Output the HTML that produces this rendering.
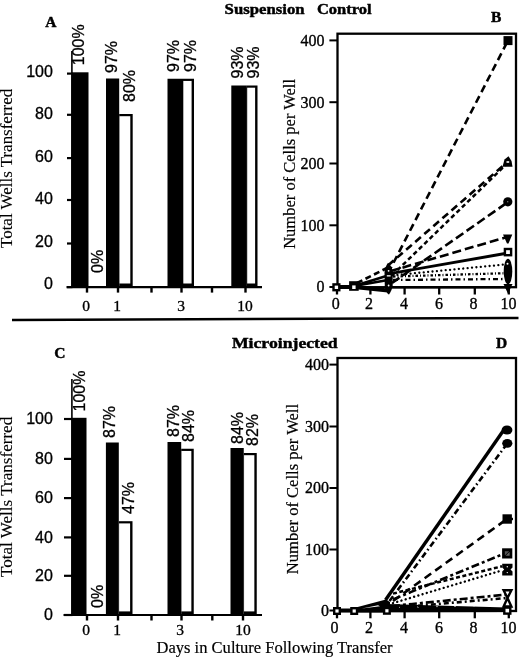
<!DOCTYPE html>
<html><head><meta charset="utf-8"><style>
html,body{margin:0;padding:0;background:#fff;}
svg{display:block;}
</style></head><body>
<svg width="520" height="658" viewBox="0 0 520 658">
<defs><filter id="bl" x="0" y="0" width="520" height="658" filterUnits="userSpaceOnUse"><feGaussianBlur stdDeviation="0.35"/></filter></defs>
<rect width="520" height="658" fill="#fff"/>
<g filter="url(#bl)">
<text x="45.2" y="26.9" font-family='"Liberation Serif", serif' font-size="15.5" font-weight="bold" text-anchor="start" stroke="#000" stroke-width="0.45">A</text>
<text x="224.6" y="13.6" font-family='"Liberation Serif", serif' font-size="15.5" font-weight="bold" text-anchor="start" stroke="#000" stroke-width="0.45" textLength="80" lengthAdjust="spacingAndGlyphs">Suspension</text>
<text x="316.9" y="13.6" font-family='"Liberation Serif", serif' font-size="15.5" font-weight="bold" text-anchor="start" stroke="#000" stroke-width="0.45" textLength="54.8" lengthAdjust="spacingAndGlyphs">Control</text>
<text x="491" y="21.6" font-family='"Liberation Serif", serif' font-size="15.5" font-weight="bold" text-anchor="start" stroke="#000" stroke-width="0.45">B</text>
<text x="54.2" y="357.5" font-family='"Liberation Serif", serif' font-size="15.5" font-weight="bold" text-anchor="start" stroke="#000" stroke-width="0.45">C</text>
<text x="231.9" y="348" font-family='"Liberation Serif", serif' font-size="15.5" font-weight="bold" text-anchor="start" stroke="#000" stroke-width="0.45" textLength="105.8" lengthAdjust="spacingAndGlyphs">Microinjected</text>
<text x="496" y="347.6" font-family='"Liberation Serif", serif' font-size="15.5" font-weight="bold" text-anchor="start" stroke="#000" stroke-width="0.45">D</text>
<line x1="12" y1="320" x2="518.5" y2="318" stroke="#000" stroke-width="2.5" stroke-linecap="butt"/>
<line x1="71.9" y1="51" x2="71.9" y2="287.1" stroke="#000" stroke-width="1.6" stroke-linecap="butt"/>
<line x1="67" y1="73.6" x2="72.5" y2="73.6" stroke="#000" stroke-width="2.2" stroke-linecap="butt"/>
<text x="52.9" y="77.35" font-family='"Liberation Sans", sans-serif' font-size="16" font-weight="normal" text-anchor="end" stroke="#000" stroke-width="0.3">100</text>
<line x1="67" y1="114.8" x2="72.5" y2="114.8" stroke="#000" stroke-width="2.2" stroke-linecap="butt"/>
<text x="52.9" y="118.55" font-family='"Liberation Sans", sans-serif' font-size="16" font-weight="normal" text-anchor="end" stroke="#000" stroke-width="0.3">80</text>
<line x1="67" y1="158.1" x2="72.5" y2="158.1" stroke="#000" stroke-width="2.2" stroke-linecap="butt"/>
<text x="52.9" y="161.85" font-family='"Liberation Sans", sans-serif' font-size="16" font-weight="normal" text-anchor="end" stroke="#000" stroke-width="0.3">60</text>
<line x1="67" y1="200" x2="72.5" y2="200" stroke="#000" stroke-width="2.2" stroke-linecap="butt"/>
<text x="52.9" y="203.75" font-family='"Liberation Sans", sans-serif' font-size="16" font-weight="normal" text-anchor="end" stroke="#000" stroke-width="0.3">40</text>
<line x1="67" y1="243.5" x2="72.5" y2="243.5" stroke="#000" stroke-width="2.2" stroke-linecap="butt"/>
<text x="52.9" y="247.25" font-family='"Liberation Sans", sans-serif' font-size="16" font-weight="normal" text-anchor="end" stroke="#000" stroke-width="0.3">20</text>
<line x1="67" y1="287.1" x2="72.5" y2="287.1" stroke="#000" stroke-width="2.2" stroke-linecap="butt"/>
<text x="52.9" y="288.65000000000003" font-family='"Liberation Sans", sans-serif' font-size="16" font-weight="normal" text-anchor="end" stroke="#000" stroke-width="0.3">0</text>
<rect x="71.5" y="72.3" width="17.0" height="214.8" fill="#000"/>
<rect x="106" y="78.5" width="13.2" height="208.6" fill="#000"/>
<rect x="119.2" y="114" width="13.5" height="173.1" fill="#000"/>
<rect x="119.5" y="116.2" width="10.8" height="167.3" fill="#fff"/>
<rect x="167.5" y="78.75" width="15.5" height="208.35" fill="#000"/>
<rect x="183" y="78.75" width="11" height="208.35" fill="#000"/>
<rect x="183.3" y="80.95" width="8.3" height="202.55" fill="#fff"/>
<rect x="231.3" y="85.5" width="15.6" height="201.6" fill="#000"/>
<rect x="246.9" y="85.5" width="10.6" height="201.6" fill="#000"/>
<rect x="247.20000000000002" y="87.7" width="7.9" height="195.8" fill="#fff"/>
<line x1="66.5" y1="287.1" x2="262" y2="287.1" stroke="#000" stroke-width="2.2" stroke-linecap="butt"/>
<line x1="87" y1="287.1" x2="87" y2="292.6" stroke="#000" stroke-width="2.4" stroke-linecap="butt"/>
<line x1="118" y1="287.1" x2="118" y2="292.6" stroke="#000" stroke-width="2.4" stroke-linecap="butt"/>
<line x1="151.5" y1="287.1" x2="151.5" y2="292.6" stroke="#000" stroke-width="2.4" stroke-linecap="butt"/>
<line x1="181.5" y1="287.1" x2="181.5" y2="292.6" stroke="#000" stroke-width="2.4" stroke-linecap="butt"/>
<line x1="212" y1="287.1" x2="212" y2="292.6" stroke="#000" stroke-width="2.4" stroke-linecap="butt"/>
<line x1="245.5" y1="287.1" x2="245.5" y2="292.6" stroke="#000" stroke-width="2.4" stroke-linecap="butt"/>
<text x="86" y="310.6" font-family='"Liberation Serif", serif' font-size="15.5" font-weight="normal" text-anchor="middle" stroke="#000" stroke-width="0.35">0</text>
<text x="117" y="310.6" font-family='"Liberation Serif", serif' font-size="15.5" font-weight="normal" text-anchor="middle" stroke="#000" stroke-width="0.35">1</text>
<text x="181" y="310.6" font-family='"Liberation Serif", serif' font-size="15.5" font-weight="normal" text-anchor="middle" stroke="#000" stroke-width="0.35">3</text>
<text x="245" y="310.6" font-family='"Liberation Serif", serif' font-size="15.5" font-weight="normal" text-anchor="middle" stroke="#000" stroke-width="0.35">10</text>
<text transform="translate(84.2,65.2) rotate(-90)" font-family='"Liberation Sans", sans-serif' font-size="16" font-weight="normal" text-anchor="start" stroke="#000" stroke-width="0.3">100%</text>
<text transform="translate(102.5,273) rotate(-90)" font-family='"Liberation Sans", sans-serif' font-size="16" font-weight="normal" text-anchor="start" stroke="#000" stroke-width="0.3">0%</text>
<text transform="translate(117,73) rotate(-90)" font-family='"Liberation Sans", sans-serif' font-size="16" font-weight="normal" text-anchor="start" stroke="#000" stroke-width="0.3">97%</text>
<text transform="translate(134.7,102) rotate(-90)" font-family='"Liberation Sans", sans-serif' font-size="16" font-weight="normal" text-anchor="start" stroke="#000" stroke-width="0.3">80%</text>
<text transform="translate(179,72) rotate(-90)" font-family='"Liberation Sans", sans-serif' font-size="16" font-weight="normal" text-anchor="start" stroke="#000" stroke-width="0.3">97%</text>
<text transform="translate(196,72) rotate(-90)" font-family='"Liberation Sans", sans-serif' font-size="16" font-weight="normal" text-anchor="start" stroke="#000" stroke-width="0.3">97%</text>
<text transform="translate(242.5,78.5) rotate(-90)" font-family='"Liberation Sans", sans-serif' font-size="16" font-weight="normal" text-anchor="start" stroke="#000" stroke-width="0.3">93%</text>
<text transform="translate(259,78.5) rotate(-90)" font-family='"Liberation Sans", sans-serif' font-size="16" font-weight="normal" text-anchor="start" stroke="#000" stroke-width="0.3">93%</text>
<text transform="translate(12.4,248) rotate(-90)" font-family='"Liberation Serif", serif' font-size="16.2" font-weight="normal" text-anchor="start" stroke="#000" stroke-width="0.12" textLength="159.2" lengthAdjust="spacingAndGlyphs">Total Wells Transferred</text>
<line x1="71.9" y1="379" x2="71.9" y2="615" stroke="#000" stroke-width="1.6" stroke-linecap="butt"/>
<line x1="64" y1="419" x2="72.5" y2="419" stroke="#000" stroke-width="2.2" stroke-linecap="butt"/>
<text x="52.9" y="424.25" font-family='"Liberation Sans", sans-serif' font-size="16" font-weight="normal" text-anchor="end" stroke="#000" stroke-width="0.3">100</text>
<line x1="64" y1="458.9" x2="72.5" y2="458.9" stroke="#000" stroke-width="2.2" stroke-linecap="butt"/>
<text x="52.9" y="464.15" font-family='"Liberation Sans", sans-serif' font-size="16" font-weight="normal" text-anchor="end" stroke="#000" stroke-width="0.3">80</text>
<line x1="64" y1="498.1" x2="72.5" y2="498.1" stroke="#000" stroke-width="2.2" stroke-linecap="butt"/>
<text x="52.9" y="503.35" font-family='"Liberation Sans", sans-serif' font-size="16" font-weight="normal" text-anchor="end" stroke="#000" stroke-width="0.3">60</text>
<line x1="64" y1="537.4" x2="72.5" y2="537.4" stroke="#000" stroke-width="2.2" stroke-linecap="butt"/>
<text x="52.9" y="542.65" font-family='"Liberation Sans", sans-serif' font-size="16" font-weight="normal" text-anchor="end" stroke="#000" stroke-width="0.3">40</text>
<line x1="64" y1="575.8" x2="72.5" y2="575.8" stroke="#000" stroke-width="2.2" stroke-linecap="butt"/>
<text x="52.9" y="581.05" font-family='"Liberation Sans", sans-serif' font-size="16" font-weight="normal" text-anchor="end" stroke="#000" stroke-width="0.3">20</text>
<line x1="64" y1="615" x2="72.5" y2="615" stroke="#000" stroke-width="2.2" stroke-linecap="butt"/>
<text x="52.9" y="620.25" font-family='"Liberation Sans", sans-serif' font-size="16" font-weight="normal" text-anchor="end" stroke="#000" stroke-width="0.3">0</text>
<rect x="71.5" y="417.8" width="15.0" height="197.2" fill="#000"/>
<rect x="105.9" y="442.5" width="12.9" height="172.5" fill="#000"/>
<rect x="118.8" y="521.2" width="13.7" height="93.8" fill="#000"/>
<rect x="119.1" y="523.4000000000001" width="11.0" height="88.0" fill="#fff"/>
<rect x="167.5" y="442" width="13.7" height="173" fill="#000"/>
<rect x="181.2" y="448.75" width="12.55" height="166.25" fill="#000"/>
<rect x="181.5" y="450.95" width="9.85" height="160.45" fill="#fff"/>
<rect x="230.5" y="448" width="13.25" height="167" fill="#000"/>
<rect x="243.75" y="453" width="13.0" height="162" fill="#000"/>
<rect x="244.05" y="455.2" width="10.3" height="156.2" fill="#fff"/>
<line x1="63.5" y1="615" x2="262" y2="615" stroke="#000" stroke-width="2.2" stroke-linecap="butt"/>
<line x1="87" y1="615" x2="87" y2="620.5" stroke="#000" stroke-width="2.4" stroke-linecap="butt"/>
<line x1="118" y1="615" x2="118" y2="620.5" stroke="#000" stroke-width="2.4" stroke-linecap="butt"/>
<line x1="151.5" y1="615" x2="151.5" y2="620.5" stroke="#000" stroke-width="2.4" stroke-linecap="butt"/>
<line x1="181.5" y1="615" x2="181.5" y2="620.5" stroke="#000" stroke-width="2.4" stroke-linecap="butt"/>
<line x1="212.3" y1="615" x2="212.3" y2="620.5" stroke="#000" stroke-width="2.4" stroke-linecap="butt"/>
<line x1="243" y1="615" x2="243" y2="620.5" stroke="#000" stroke-width="2.4" stroke-linecap="butt"/>
<text x="86" y="635.2" font-family='"Liberation Serif", serif' font-size="15.5" font-weight="normal" text-anchor="middle" stroke="#000" stroke-width="0.35">0</text>
<text x="117" y="635.2" font-family='"Liberation Serif", serif' font-size="15.5" font-weight="normal" text-anchor="middle" stroke="#000" stroke-width="0.35">1</text>
<text x="180" y="635.2" font-family='"Liberation Serif", serif' font-size="15.5" font-weight="normal" text-anchor="middle" stroke="#000" stroke-width="0.35">3</text>
<text x="243" y="635.2" font-family='"Liberation Serif", serif' font-size="15.5" font-weight="normal" text-anchor="middle" stroke="#000" stroke-width="0.35">10</text>
<text transform="translate(85.1,411.5) rotate(-90)" font-family='"Liberation Sans", sans-serif' font-size="16" font-weight="normal" text-anchor="start" stroke="#000" stroke-width="0.3">100%</text>
<text transform="translate(102.7,608) rotate(-90)" font-family='"Liberation Sans", sans-serif' font-size="16" font-weight="normal" text-anchor="start" stroke="#000" stroke-width="0.3">0%</text>
<text transform="translate(115.2,438) rotate(-90)" font-family='"Liberation Sans", sans-serif' font-size="16" font-weight="normal" text-anchor="start" stroke="#000" stroke-width="0.3">87%</text>
<text transform="translate(133.6,514) rotate(-90)" font-family='"Liberation Sans", sans-serif' font-size="16" font-weight="normal" text-anchor="start" stroke="#000" stroke-width="0.3">47%</text>
<text transform="translate(178.75,437) rotate(-90)" font-family='"Liberation Sans", sans-serif' font-size="16" font-weight="normal" text-anchor="start" stroke="#000" stroke-width="0.3">87%</text>
<text transform="translate(193.75,442) rotate(-90)" font-family='"Liberation Sans", sans-serif' font-size="16" font-weight="normal" text-anchor="start" stroke="#000" stroke-width="0.3">84%</text>
<text transform="translate(242.5,444) rotate(-90)" font-family='"Liberation Sans", sans-serif' font-size="16" font-weight="normal" text-anchor="start" stroke="#000" stroke-width="0.3">84%</text>
<text transform="translate(257.5,446) rotate(-90)" font-family='"Liberation Sans", sans-serif' font-size="16" font-weight="normal" text-anchor="start" stroke="#000" stroke-width="0.3">82%</text>
<text transform="translate(12.4,577) rotate(-90)" font-family='"Liberation Serif", serif' font-size="16.2" font-weight="normal" text-anchor="start" stroke="#000" stroke-width="0.12" textLength="160.2" lengthAdjust="spacingAndGlyphs">Total Wells Transferred</text>
<text x="156.5" y="653.2" font-family='"Liberation Serif", serif' font-size="16.5" font-weight="normal" text-anchor="start" stroke="#000" stroke-width="0.2" textLength="236" lengthAdjust="spacingAndGlyphs">Days in Culture Following Transfer</text>
<rect x="337.5" y="33.7" width="178.5" height="253.5" fill="none" stroke="#000" stroke-width="2.3"/>
<line x1="329.4" y1="40.4" x2="337.5" y2="40.4" stroke="#000" stroke-width="2" stroke-linecap="butt"/>
<text x="324.6" y="45.699999999999996" font-family='"Liberation Serif", serif' font-size="16" font-weight="normal" text-anchor="end" stroke="#000" stroke-width="0.35">400</text>
<line x1="329.4" y1="102.2" x2="337.5" y2="102.2" stroke="#000" stroke-width="2" stroke-linecap="butt"/>
<text x="324.6" y="107.5" font-family='"Liberation Serif", serif' font-size="16" font-weight="normal" text-anchor="end" stroke="#000" stroke-width="0.35">300</text>
<line x1="329.4" y1="163.5" x2="337.5" y2="163.5" stroke="#000" stroke-width="2" stroke-linecap="butt"/>
<text x="324.6" y="168.8" font-family='"Liberation Serif", serif' font-size="16" font-weight="normal" text-anchor="end" stroke="#000" stroke-width="0.35">200</text>
<line x1="329.4" y1="225.3" x2="337.5" y2="225.3" stroke="#000" stroke-width="2" stroke-linecap="butt"/>
<text x="324.6" y="230.60000000000002" font-family='"Liberation Serif", serif' font-size="16" font-weight="normal" text-anchor="end" stroke="#000" stroke-width="0.35">100</text>
<line x1="329.4" y1="287" x2="337.5" y2="287" stroke="#000" stroke-width="2" stroke-linecap="butt"/>
<text x="324.6" y="292.3" font-family='"Liberation Serif", serif' font-size="16" font-weight="normal" text-anchor="end" stroke="#000" stroke-width="0.35">0</text>
<line x1="337" y1="287.2" x2="337" y2="294.5" stroke="#000" stroke-width="2.3" stroke-linecap="butt"/>
<text x="335.8" y="308.7" font-family='"Liberation Serif", serif' font-size="16" font-weight="normal" text-anchor="middle" stroke="#000" stroke-width="0.35">0</text>
<line x1="370.4" y1="287.2" x2="370.4" y2="294.5" stroke="#000" stroke-width="2.3" stroke-linecap="butt"/>
<text x="369" y="308.7" font-family='"Liberation Serif", serif' font-size="16" font-weight="normal" text-anchor="middle" stroke="#000" stroke-width="0.35">2</text>
<line x1="404.6" y1="287.2" x2="404.6" y2="294.5" stroke="#000" stroke-width="2.3" stroke-linecap="butt"/>
<text x="404" y="308.7" font-family='"Liberation Serif", serif' font-size="16" font-weight="normal" text-anchor="middle" stroke="#000" stroke-width="0.35">4</text>
<line x1="439.2" y1="287.2" x2="439.2" y2="294.5" stroke="#000" stroke-width="2.3" stroke-linecap="butt"/>
<text x="439" y="308.7" font-family='"Liberation Serif", serif' font-size="16" font-weight="normal" text-anchor="middle" stroke="#000" stroke-width="0.35">6</text>
<line x1="474.8" y1="287.2" x2="474.8" y2="294.5" stroke="#000" stroke-width="2.3" stroke-linecap="butt"/>
<text x="473.5" y="308.7" font-family='"Liberation Serif", serif' font-size="16" font-weight="normal" text-anchor="middle" stroke="#000" stroke-width="0.35">8</text>
<line x1="508.8" y1="287.2" x2="508.8" y2="294.5" stroke="#000" stroke-width="2.3" stroke-linecap="butt"/>
<text x="508.5" y="308.7" font-family='"Liberation Serif", serif' font-size="16" font-weight="normal" text-anchor="middle" stroke="#000" stroke-width="0.35">10</text>
<text transform="translate(295.2,248.8) rotate(-90)" font-family='"Liberation Serif", serif' font-size="16.5" font-weight="normal" text-anchor="start" stroke="#000" stroke-width="0.2" textLength="169.8" lengthAdjust="spacingAndGlyphs">Number of Cells per Well</text>
<rect x="337.5" y="358" width="178.5" height="253" fill="none" stroke="#000" stroke-width="2.3"/>
<line x1="329.4" y1="364.6" x2="337.5" y2="364.6" stroke="#000" stroke-width="2" stroke-linecap="butt"/>
<text x="329" y="369.90000000000003" font-family='"Liberation Serif", serif' font-size="16" font-weight="normal" text-anchor="end" stroke="#000" stroke-width="0.35">400</text>
<line x1="329.4" y1="426.5" x2="337.5" y2="426.5" stroke="#000" stroke-width="2" stroke-linecap="butt"/>
<text x="329" y="431.8" font-family='"Liberation Serif", serif' font-size="16" font-weight="normal" text-anchor="end" stroke="#000" stroke-width="0.35">300</text>
<line x1="329.4" y1="488" x2="337.5" y2="488" stroke="#000" stroke-width="2" stroke-linecap="butt"/>
<text x="329" y="493.3" font-family='"Liberation Serif", serif' font-size="16" font-weight="normal" text-anchor="end" stroke="#000" stroke-width="0.35">200</text>
<line x1="329.4" y1="549.5" x2="337.5" y2="549.5" stroke="#000" stroke-width="2" stroke-linecap="butt"/>
<text x="329" y="554.8" font-family='"Liberation Serif", serif' font-size="16" font-weight="normal" text-anchor="end" stroke="#000" stroke-width="0.35">100</text>
<line x1="329.4" y1="610.5" x2="337.5" y2="610.5" stroke="#000" stroke-width="2" stroke-linecap="butt"/>
<text x="329" y="615.8" font-family='"Liberation Serif", serif' font-size="16" font-weight="normal" text-anchor="end" stroke="#000" stroke-width="0.35">0</text>
<line x1="337" y1="611" x2="337" y2="618.3" stroke="#000" stroke-width="2.3" stroke-linecap="butt"/>
<text x="334.6" y="632.5" font-family='"Liberation Serif", serif' font-size="16" font-weight="normal" text-anchor="middle" stroke="#000" stroke-width="0.35">0</text>
<line x1="370.4" y1="611" x2="370.4" y2="618.3" stroke="#000" stroke-width="2.3" stroke-linecap="butt"/>
<text x="369" y="632.5" font-family='"Liberation Serif", serif' font-size="16" font-weight="normal" text-anchor="middle" stroke="#000" stroke-width="0.35">2</text>
<line x1="404.6" y1="611" x2="404.6" y2="618.3" stroke="#000" stroke-width="2.3" stroke-linecap="butt"/>
<text x="404" y="632.5" font-family='"Liberation Serif", serif' font-size="16" font-weight="normal" text-anchor="middle" stroke="#000" stroke-width="0.35">4</text>
<line x1="439.2" y1="611" x2="439.2" y2="618.3" stroke="#000" stroke-width="2.3" stroke-linecap="butt"/>
<text x="439" y="632.5" font-family='"Liberation Serif", serif' font-size="16" font-weight="normal" text-anchor="middle" stroke="#000" stroke-width="0.35">6</text>
<line x1="474.8" y1="611" x2="474.8" y2="618.3" stroke="#000" stroke-width="2.3" stroke-linecap="butt"/>
<text x="473.5" y="632.5" font-family='"Liberation Serif", serif' font-size="16" font-weight="normal" text-anchor="middle" stroke="#000" stroke-width="0.35">8</text>
<line x1="508.8" y1="611" x2="508.8" y2="618.3" stroke="#000" stroke-width="2.3" stroke-linecap="butt"/>
<text x="508.5" y="632.5" font-family='"Liberation Serif", serif' font-size="16" font-weight="normal" text-anchor="middle" stroke="#000" stroke-width="0.35">10</text>
<text transform="translate(298.1,574.2) rotate(-90)" font-family='"Liberation Serif", serif' font-size="16.5" font-weight="normal" text-anchor="start" stroke="#000" stroke-width="0.2" textLength="170.20000000000005" lengthAdjust="spacingAndGlyphs">Number of Cells per Well</text>
<g>
<polyline points="337,287 354,287 388,290.5" fill="none" stroke="#000" stroke-width="4" stroke-linecap="butt" stroke-linejoin="miter"/>
<polyline points="354,286 388,280" fill="none" stroke="#000" stroke-width="2.6" stroke-linecap="butt" stroke-linejoin="miter"/>
<polyline points="354,286 388,275.5" fill="none" stroke="#000" stroke-width="2.6" stroke-linecap="butt" stroke-linejoin="miter"/>
<polyline points="357,283 387,268" fill="none" stroke="#000" stroke-width="2.6" stroke-linecap="butt" stroke-linejoin="miter" stroke-dasharray="6 3.5"/>
<polyline points="388,273.4 508,40.5" fill="none" stroke="#000" stroke-width="2.6" stroke-linecap="butt" stroke-linejoin="miter" stroke-dasharray="7.5 4.5"/>
<polyline points="388,265.5 508,161.5" fill="none" stroke="#000" stroke-width="2.6" stroke-linecap="butt" stroke-linejoin="miter" stroke-dasharray="7.5 4.5"/>
<polyline points="392,275.4 506,164.6" fill="none" stroke="#000" stroke-width="2.5" stroke-linecap="butt" stroke-linejoin="miter" stroke-dasharray="4.5 3"/>
<polyline points="392,283 508,202" fill="none" stroke="#000" stroke-width="2.6" stroke-linecap="butt" stroke-linejoin="miter" stroke-dasharray="9 4"/>
<polyline points="390,271.3 506,237.3" fill="none" stroke="#000" stroke-width="2.6" stroke-linecap="butt" stroke-linejoin="miter" stroke-dasharray="9 4"/>
<polyline points="390,273.6 508,253" fill="none" stroke="#000" stroke-width="2.9" stroke-linecap="butt" stroke-linejoin="miter"/>
<polyline points="393,275.3 505,264.5" fill="none" stroke="#000" stroke-width="2.3" stroke-linecap="round" stroke-linejoin="miter" stroke-dasharray="0.01 4.4"/>
<polyline points="393,276.5 505,273.2" fill="none" stroke="#000" stroke-width="2.3" stroke-linecap="butt" stroke-linejoin="miter" stroke-dasharray="2.5 2 1 2"/>
<polyline points="393,280 505,279" fill="none" stroke="#000" stroke-width="2.3" stroke-linecap="butt" stroke-linejoin="miter" stroke-dasharray="5 3 1.5 3"/>
<polyline points="392,287.3 508,287.3" fill="none" stroke="#000" stroke-width="2.4" stroke-linecap="butt" stroke-linejoin="miter"/>
<rect x="503.5" y="36.1" width="9" height="9" fill="#000"/>
<polygon points="502.5,166.8 512.5,166.8 511.5,161 508.5,156.2 504.5,159.5" fill="#000"/>
<rect x="506.5" y="161.2" width="2.7" height="1.6" fill="#fff"/>
<circle cx="507.8" cy="201.8" r="4.6" fill="#000"/>
<circle cx="507.8" cy="201.8" r="0.5" fill="#fff"/>
<polygon points="503,234.6 512.3,234.6 508.5,243.5 507,243.5" fill="#000"/>
<rect x="504.9" y="248.99999999999997" width="6.199999999999999" height="6.199999999999999" fill="#fff" stroke="#000" stroke-width="2.4"/>
<ellipse cx="508" cy="271.5" rx="4.3" ry="12.8" fill="#000"/>
<polygon points="503.5,284 512.5,284 508,293.8" fill="#000"/>
<circle cx="507.5" cy="263.7" r="1.0" fill="#fff"/>
<path d="M388,262.8 C386,266 384.5,269 384.5,272 L384.8,287 C385.5,291 387.5,294 389,294.5 C391,291.5 392.7,288 392.7,285 L392.7,272 C392.5,268 390.5,265 388,262.8 Z" fill="#000"/>
<circle cx="388.6" cy="270.8" r="0.9" fill="#fff"/>
<rect x="386.8" y="275.2" width="3.8" height="1.3" fill="#fff"/>
<circle cx="388.6" cy="285.5" r="0.9" fill="#fff"/>
<rect x="333.49999999999994" y="284.4" width="5.799999999999999" height="5.799999999999999" fill="#fff" stroke="#000" stroke-width="2.4"/>
<rect x="349.09999999999997" y="281.2" width="9.6" height="9.6" fill="#000"/>
<rect x="352.2" y="285.4" width="3.4" height="3.6" fill="#fff"/>
</g>
<g>
<polyline points="337,610.4 354,610.4 388,610.4" fill="none" stroke="#000" stroke-width="4" stroke-linecap="butt" stroke-linejoin="miter"/>
<polygon points="352,608.5 386,599.5 390,602 390,612.3 352,612.3" fill="#000"/>
<path d="M362,608.6 L378,605.2 L380,606.3 Z" fill="#fff"/>
<polygon points="386,604 507,607.5 507,612 386,612.2" fill="#000"/>
<circle cx="400" cy="607.32" r="0.7" fill="#fff"/>
<circle cx="418" cy="606.96" r="0.7" fill="#fff"/>
<circle cx="437" cy="606.58" r="0.7" fill="#fff"/>
<circle cx="455" cy="606.22" r="0.7" fill="#fff"/>
<circle cx="474" cy="605.84" r="0.7" fill="#fff"/>
<circle cx="492" cy="605.48" r="0.7" fill="#fff"/>
<polyline points="385.5,600 505.5,427.5" fill="none" stroke="#000" stroke-width="3.4" stroke-linecap="butt" stroke-linejoin="miter"/>
<polyline points="389.5,601 507.3,443.5" fill="none" stroke="#000" stroke-width="2.6" stroke-linecap="butt" stroke-linejoin="miter" stroke-dasharray="6 3 1.6 3"/>
<polyline points="393,601 507,519" fill="none" stroke="#000" stroke-width="2.6" stroke-linecap="butt" stroke-linejoin="miter" stroke-dasharray="8 5"/>
<polyline points="393,599.4 507,552.5" fill="none" stroke="#000" stroke-width="2.6" stroke-linecap="butt" stroke-linejoin="miter" stroke-dasharray="8 3 3 3"/>
<polyline points="393,593.6 502,566.3" fill="none" stroke="#000" stroke-width="2.5" stroke-linecap="butt" stroke-linejoin="miter" stroke-dasharray="4 2.5"/>
<polyline points="393,603.1 502,570.4" fill="none" stroke="#000" stroke-width="2.4" stroke-linecap="round" stroke-linejoin="miter" stroke-dasharray="0.01 4.4"/>
<polyline points="392,606 507,594.5" fill="none" stroke="#000" stroke-width="2.6" stroke-linecap="butt" stroke-linejoin="miter" stroke-dasharray="8 3 3 3"/>
<polyline points="392,608 507,598" fill="none" stroke="#000" stroke-width="2.6" stroke-linecap="butt" stroke-linejoin="miter" stroke-dasharray="5 3 2 3"/>
<ellipse cx="507" cy="430" rx="5.4" ry="4.6" fill="#000"/>
<ellipse cx="507.3" cy="443.3" rx="5.1" ry="4.4" fill="#000"/>
<rect x="502.5" y="514.3" width="9.4" height="9.4" fill="#000"/>
<rect x="510.5" y="517.8" width="2.5" height="2.4" fill="#000"/>
<rect x="502.09999999999997" y="548.3" width="10.2" height="10.2" fill="#000"/>
<path d="M504.8,551.2 L509.2,551.2 L504.8,555.6 Z" fill="#555"/>
<path d="M509.6,551.8 L509.6,555.8 L505.6,555.8 Z" fill="#666"/>
<polygon points="502.2,563.8 512.5,563.8 512.5,567.5 510.5,569.5 512.5,571.5 512.5,575.4 502.2,575.4 502.2,571.5 504.2,569.5 502.2,567.5" fill="#000"/>
<circle cx="507.3" cy="566.8" r="0.7" fill="#fff"/>
<circle cx="507.3" cy="572.6" r="0.7" fill="#fff"/>
<polygon points="503.6,590.3 511.4,590.3 507.5,598 511.4,606.5 503.6,606.5 507.5,598" fill="#fff" stroke="#000" stroke-width="2.4" stroke-linejoin="miter"/>
<rect x="504.3" y="607.6" width="6.0" height="6.0" fill="#fff" stroke="#000" stroke-width="2.4"/>
<rect x="334.2" y="608.2" width="5.6" height="5.6" fill="#fff" stroke="#000" stroke-width="2.4"/>
<rect x="351.4" y="608.2" width="5.6" height="5.6" fill="#fff" stroke="#000" stroke-width="2.4"/>
<rect x="384.09999999999997" y="608.0" width="5.6" height="5.6" fill="#fff" stroke="#000" stroke-width="2.4"/>
</g>
</g>
</svg>
</body></html>
